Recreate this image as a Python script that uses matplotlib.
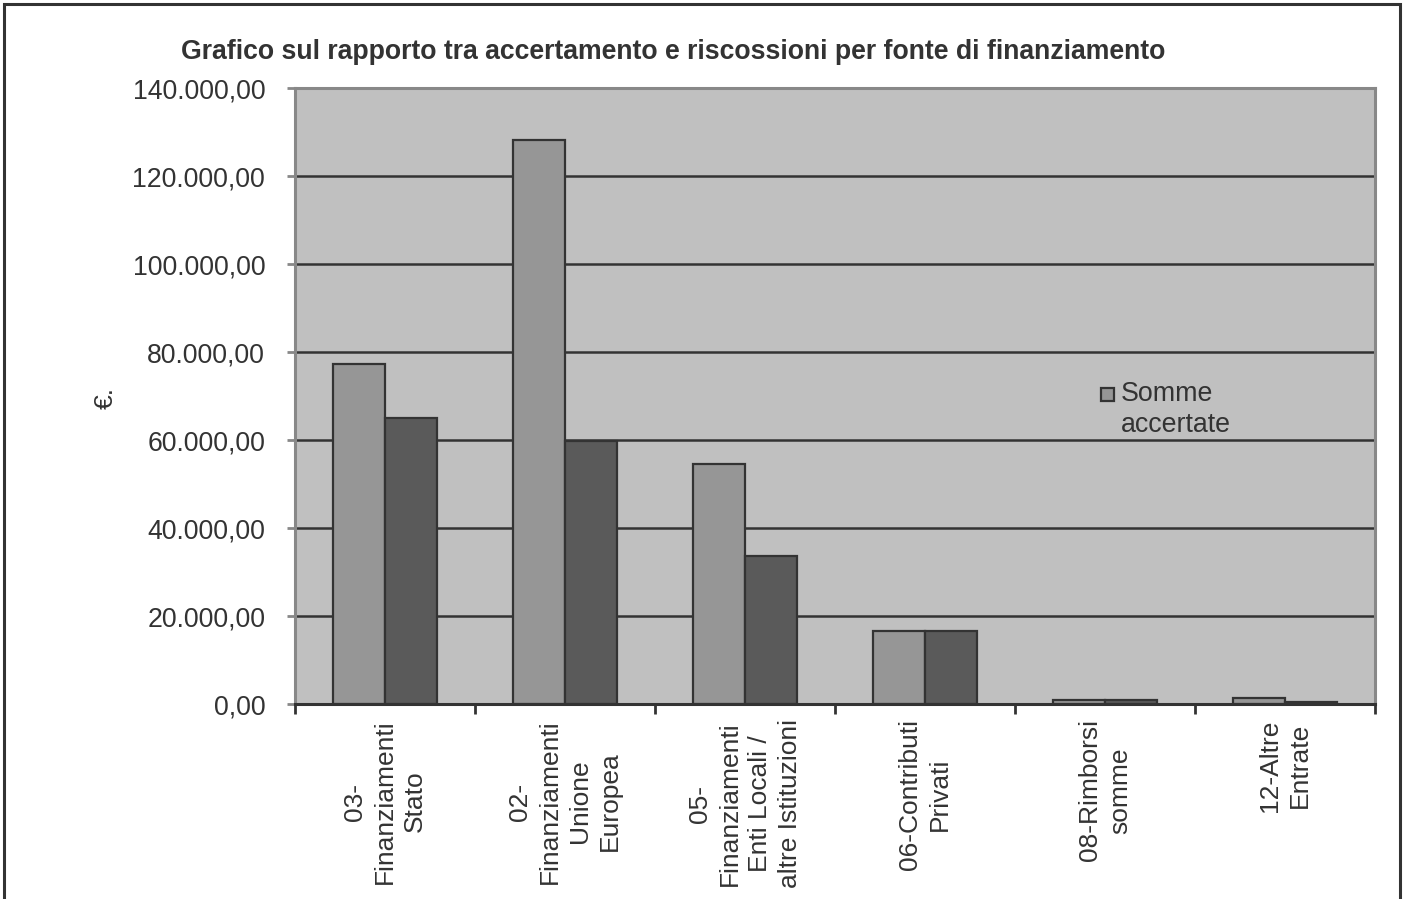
import matplotlib.pyplot as plt
import numpy as np
from matplotlib.patches import Rectangle
from matplotlib.ticker import FuncFormatter, FixedLocator

plt.rcParams['font.family'] = ['Liberation Sans', 'DejaVu Sans']

categories = ["03-\nFinanziamenti\nStato",
              "02-\nFinanziamenti\nUnione\nEuropea",
              "05-\nFinanziamenti\nEnti Locali /\naltre Istituzioni",
              "06-Contributi\nPrivati",
              "08-Rimborsi\nsomme",
              "12-Altre\nEntrate"]
accertate = [77300, 128200, 54500, 16500, 900, 1400]
riscosse = [65000, 59700, 33600, 16500, 850, 500]
yticks = [0, 20000, 40000, 60000, 80000, 100000, 120000, 140000]

fig = plt.figure(figsize=(14.03, 8.99), dpi=100)
ax = fig.add_axes([295 / 1403, 1 - 704 / 899, 1080 / 1403, 616 / 899])
ax.set_facecolor('#c0c0c0')

x = np.arange(len(categories))
w = 52 / 180
ax.bar(x - w / 2, accertate, w, color='#969696', edgecolor='#333333', linewidth=1.6, zorder=3)
ax.bar(x + w / 2, riscosse, w, color='#5a5a5a', edgecolor='#333333', linewidth=1.6, zorder=3)

ax.set_xlim(-0.5, len(categories) - 0.5)
ax.set_ylim(0, 140000)
ax.yaxis.set_major_locator(FixedLocator(yticks))
ax.yaxis.set_major_formatter(FuncFormatter(
    lambda v, p: f"{v:,.2f}".replace(",", "X").replace(".", ",").replace("X", ".")))
ax.grid(axis='y', color='#333333', linewidth=1.8, zorder=1)
ax.set_axisbelow(True)

ax.xaxis.set_major_locator(FixedLocator(np.arange(-0.5, len(categories), 1.0)))
ax.xaxis.set_major_formatter(FuncFormatter(lambda v, p: ""))
ax.set_xticks(x, minor=True)
ax.set_xticklabels(categories, minor=True, rotation=90, ha='center', va='top',
                   multialignment='center', fontsize=19, color='#333333',
                   linespacing=1.3)
ax.tick_params(axis='x', which='minor', length=0, pad=11)
ax.tick_params(axis='x', which='major', length=7, width=2, color='#333333', direction='out')
ax.tick_params(axis='y', length=5.5, width=2, color='#888888', pad=16,
               labelsize=19.2, labelcolor='#333333')

for s in ['left', 'top', 'right']:
    ax.spines[s].set_color('#888888')
    ax.spines[s].set_linewidth(2.2)
ax.spines['bottom'].set_color('#333333')
ax.spines['bottom'].set_linewidth(2.2)
ax.spines['bottom'].set_zorder(4)

ax.set_ylabel('€.', fontsize=19, color='#333333')
ax.yaxis.set_label_coords(-0.164, 0.497)

# legend (only the first series is shown in the original)
ax.add_patch(Rectangle(((1101 - 295) / 1080, (704 - 401) / 616), 13 / 1080, 13 / 616,
                       transform=ax.transAxes, facecolor='#969696',
                       edgecolor='#333333', linewidth=1.6, zorder=5))
ax.text((1121 - 295) / 1080, (704 - 409) / 616, 'Somme\naccertate', transform=ax.transAxes,
        ha='left', va='center', fontsize=19.3, color='#333333', linespacing=1.25)

fig.text(0.48, 1 - 52 / 899, 'Grafico sul rapporto tra accertamento e riscossioni per fonte di finanziamento',
         ha='center', va='center', fontsize=19.2, fontweight='bold', color='#333333')

fig.patches.append(Rectangle((4 / 1403, -0.1), 1396 / 1403, 1.1 - 4 / 899,
                             transform=fig.transFigure, fill=False,
                             edgecolor='#333333', linewidth=2.2))

fig.savefig('out.png', dpi=100)
